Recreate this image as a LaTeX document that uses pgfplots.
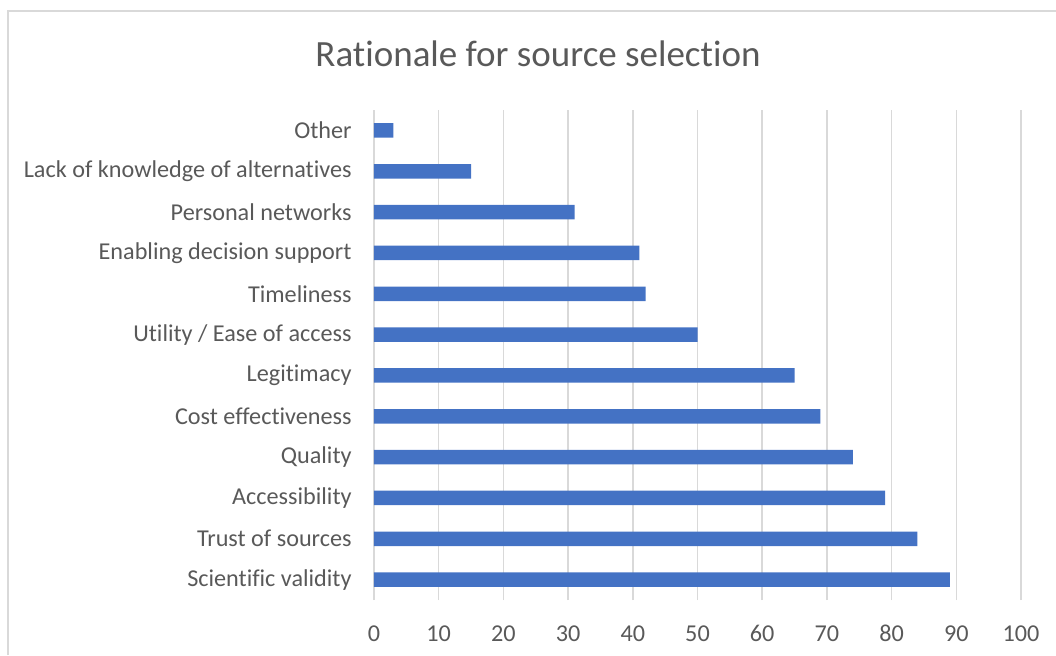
\documentclass[border=0pt]{standalone}
\usepackage{fontspec}
\setmainfont{Carlito}[RawFeature={-liga;-clig;-calt;-dlig;-rlig}]
\usepackage{pgfplots}
\pgfplotsset{compat=1.18}

\definecolor{barblue}{HTML}{4472C4}
\definecolor{gridgray}{HTML}{D9D9D9}
\definecolor{textgray}{HTML}{595959}

\begin{document}
\begin{tikzpicture}
% fixed page: 1056 x 655 px at 0.5pt per px
\useasboundingbox (0,0) rectangle (528pt,327.5pt);
\draw[gridgray, line width=0.75pt] (4pt,0) -- (4pt,322pt) -- (528pt,322pt);

\node[textgray, font=\fontsize{18.5}{22}\selectfont, anchor=base] at (269pt,294pt) {Rationale for source selection};

\begin{axis}[
    at={(187pt,27.5pt)}, anchor=south west,
    scale only axis,
    width=323.5pt, height=245pt,
    xbar,
    bar width=7.25pt,
    xmin=0, xmax=100,
    xtick distance=10,
    ymin=-0.5, ymax=11.5,
    ytick=data,
    yticklabels={Scientific validity, Trust of sources, Accessibility, Quality, Cost effectiveness, Legitimacy, Utility / Ease of access, Timeliness, Enabling decision support, Personal networks, Lack of knowledge of alternatives, Other},
    axis line style={draw=none},
    major tick length=0pt,
    xmajorgrids,
    grid style={gridgray, line width=0.75pt},
    tick label style={textgray, font=\fontsize{12.1}{15}\selectfont},
    /pgf/number format/assume math mode=true,
    yticklabel style={inner sep=0pt, anchor=east, xshift=-11pt},
    xticklabel style={inner sep=0pt, anchor=north, yshift=-12.5pt},
]
\addplot[fill=barblue, draw=none] coordinates {
    (89,0) (84,1) (79,2) (74,3) (69,4) (65,5)
    (50,6) (42,7) (41,8) (31,9) (15,10) (3,11)
};
\end{axis}
\end{tikzpicture}
\end{document}
